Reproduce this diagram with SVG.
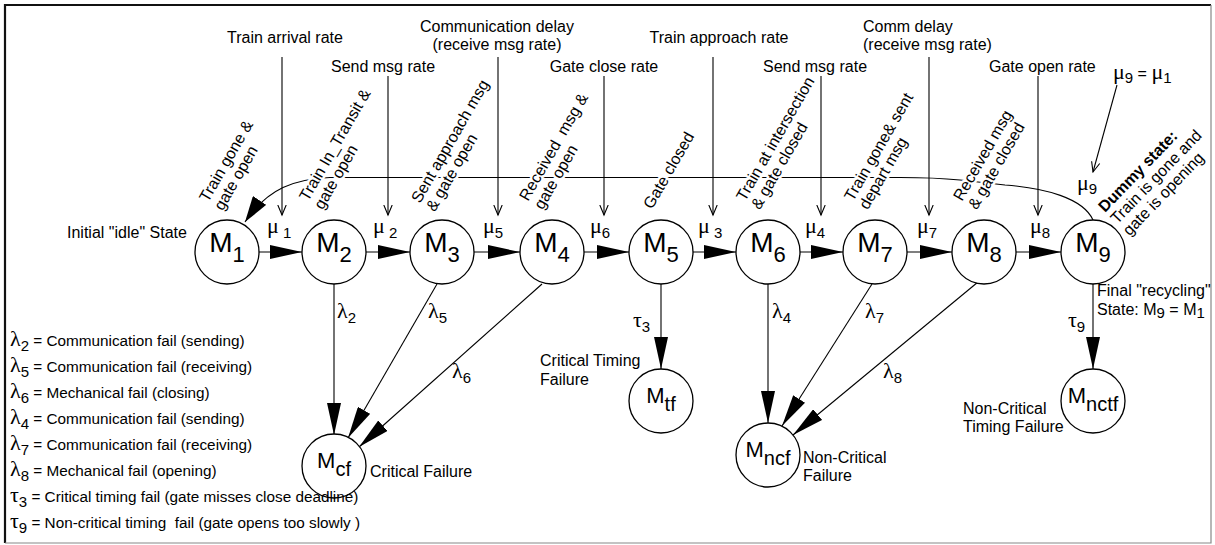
<svg xmlns="http://www.w3.org/2000/svg" width="1215" height="545" viewBox="0 0 1215 545">
<style>
text{font-family:"Liberation Sans",Arial,sans-serif;font-size:16px;fill:#000}
.g{font-family:"Liberation Serif","Times New Roman",serif;font-size:22px}
.s{font-size:15px}
.nm{font-size:28px}
.ns{font-size:22px}
.fm{font-size:22px}
.fs{font-size:20px}
.lg{font-size:15.3px}
.lb{stroke:#fff;stroke-width:5;stroke-linejoin:round;paint-order:stroke}
.node circle{fill:#fff;stroke:#000;stroke-width:1.3}
.c line,.c path{stroke:#000;stroke-width:1.1;fill:none}
.fa{marker-end:url(#fill)}
.oa{marker-end:url(#open)}
.fb{marker-end:url(#big)}
</style>
<defs>
<marker id="fill" markerUnits="userSpaceOnUse" markerWidth="33" markerHeight="14" refX="32" refY="7" orient="auto"><path d="M0,0L32,7L0,14z" fill="#000"/></marker>
<marker id="big" markerUnits="userSpaceOnUse" markerWidth="27" markerHeight="16" refX="26" refY="8" orient="auto"><path d="M0,0L26,8L0,16z" fill="#000"/></marker>
<marker id="open" markerUnits="userSpaceOnUse" markerWidth="12" markerHeight="10" refX="10.5" refY="5" orient="auto"><path d="M0.5,0.8L10.5,5L0.5,9.2" fill="none" stroke="#000" stroke-width="1.1"/></marker>
</defs>

<!-- frame -->
<path d="M5,543V5H1211" fill="none" stroke="#111" stroke-width="2.2"/>
<path d="M5,543H1211V5" fill="none" stroke="#888" stroke-width="1.2"/>

<!-- connectors -->
<g id="connectors" class="c">
  <!-- rate inputs -->
  <line class="oa" x1="282" y1="57" x2="282" y2="215"/>
  <line class="oa" x1="388" y1="76" x2="388" y2="215"/>
  <line class="oa" x1="498" y1="57" x2="498" y2="215"/>
  <line class="oa" x1="604" y1="76" x2="604" y2="215"/>
  <line class="oa" x1="713" y1="57" x2="713" y2="215"/>
  <line class="oa" x1="821" y1="76" x2="821" y2="215"/>
  <line class="oa" x1="929" y1="57" x2="929" y2="215"/>
  <line class="oa" x1="1038" y1="76" x2="1038" y2="215"/>
  <line class="oa" x1="1117" y1="85" x2="1093" y2="172"/>
  <!-- recycle path M9 -> M1 -->
  <path class="fb" d="M1093,220C1083,198 1045,188 1005,185L960,180C940,178 920,177.5 900,177.5L330,177.5C295,179 268,188 245,222"/>
  <!-- main chain -->
  <line class="fa" x1="259" y1="252" x2="302" y2="252"/>
  <line class="fa" x1="366" y1="252" x2="410" y2="252"/>
  <line class="fa" x1="474" y1="252" x2="520" y2="252"/>
  <line class="fa" x1="584" y1="252" x2="629" y2="252"/>
  <line class="fa" x1="693" y1="252" x2="736" y2="252"/>
  <line class="fa" x1="800" y1="252" x2="843" y2="252"/>
  <line class="fa" x1="907" y1="252" x2="952" y2="252"/>
  <line class="fa" x1="1016" y1="252" x2="1061" y2="252"/>
  <!-- failure transitions -->
  <line class="fa" x1="334" y1="284" x2="334" y2="435"/>
  <line class="fa" x1="437" y1="284" x2="348" y2="438"/>
  <line class="fa" x1="542" y1="284" x2="359" y2="447"/>
  <line class="fa" x1="661" y1="284" x2="661" y2="369"/>
  <line class="fa" x1="768" y1="284" x2="768" y2="423"/>
  <line class="fa" x1="872" y1="284" x2="782" y2="426"/>
  <line class="fa" x1="978" y1="282" x2="793" y2="435"/>
  <line class="fa" x1="1093" y1="284" x2="1093" y2="369"/>
</g>

<!-- states -->
<g id="M1" class="node"><circle cx="227" cy="252" r="32"/><text x="227" y="252" text-anchor="middle" class="nm">M<tspan class="ns" dy="10">1</tspan></text></g>
<g id="M2" class="node"><circle cx="334" cy="252" r="32"/><text x="334" y="252" text-anchor="middle" class="nm">M<tspan class="ns" dy="10">2</tspan></text></g>
<g id="M3" class="node"><circle cx="442" cy="252" r="32"/><text x="442" y="252" text-anchor="middle" class="nm">M<tspan class="ns" dy="10">3</tspan></text></g>
<g id="M4" class="node"><circle cx="552" cy="252" r="32"/><text x="552" y="252" text-anchor="middle" class="nm">M<tspan class="ns" dy="10">4</tspan></text></g>
<g id="M5" class="node"><circle cx="661" cy="252" r="32"/><text x="661" y="252" text-anchor="middle" class="nm">M<tspan class="ns" dy="10">5</tspan></text></g>
<g id="M6" class="node"><circle cx="768" cy="252" r="32"/><text x="768" y="252" text-anchor="middle" class="nm">M<tspan class="ns" dy="10">6</tspan></text></g>
<g id="M7" class="node"><circle cx="875" cy="252" r="32"/><text x="875" y="252" text-anchor="middle" class="nm">M<tspan class="ns" dy="10">7</tspan></text></g>
<g id="M8" class="node"><circle cx="984" cy="252" r="32"/><text x="984" y="252" text-anchor="middle" class="nm">M<tspan class="ns" dy="10">8</tspan></text></g>
<g id="M9" class="node"><circle cx="1093" cy="252" r="32"/><text x="1093" y="252" text-anchor="middle" class="nm">M<tspan class="ns" dy="10">9</tspan></text></g>
<g id="Mcf" class="node"><circle cx="334" cy="466" r="32"/><text x="334" y="468" text-anchor="middle" class="fm">M<tspan class="fs" dy="8">cf</tspan></text></g>
<g id="Mtf" class="node"><circle cx="661" cy="401" r="32"/><text x="661" y="403" text-anchor="middle" class="fm">M<tspan class="fs" dy="8">tf</tspan></text></g>
<g id="Mncf" class="node"><circle cx="768" cy="455" r="32"/><text x="768" y="457" text-anchor="middle" class="fm">M<tspan class="fs" dy="8">ncf</tspan></text></g>
<g id="Mnctf" class="node"><circle cx="1093" cy="401" r="32"/><text x="1093" y="403" text-anchor="middle" class="fm">M<tspan class="fs" dy="8">nctf</tspan></text></g>

<!-- state descriptions along the recycle path -->
<g id="state-notes">
  <text class="lb" transform="translate(208,203) rotate(-60)"><tspan x="0" y="0">Train gone &amp;</tspan><tspan x="0" y="17">gate open</tspan></text>
  <text class="lb" transform="translate(308,202) rotate(-60)"><tspan x="0" y="0">Train In_Transit &amp;</tspan><tspan x="0" y="17">gate open</tspan></text>
  <text class="lb" transform="translate(420,204) rotate(-60)"><tspan x="0" y="0">Sent approach msg</tspan><tspan x="0" y="17">&amp; gate open</tspan></text>
  <text class="lb" transform="translate(528,202) rotate(-60)" style="white-space:pre"><tspan x="0" y="0">Received  msg &amp;</tspan><tspan x="0" y="17">gate open</tspan></text>
  <text class="lb" transform="translate(652,210) rotate(-60)">Gate closed</text>
  <text class="lb" transform="translate(745,202) rotate(-60)"><tspan x="0" y="0">Train at intersection</tspan><tspan x="0" y="17">&amp; gate closed</tspan></text>
  <text class="lb" transform="translate(853,202) rotate(-60)"><tspan x="0" y="0">Train gone&amp; sent</tspan><tspan x="0" y="17">depart msg</tspan></text>
  <text class="lb" transform="translate(962,202) rotate(-60)"><tspan x="0" y="0">Received msg</tspan><tspan x="0" y="17">&amp; gate closed</tspan></text>
  <text class="lb" transform="translate(1105,213) rotate(-46)"><tspan x="0" y="0" font-weight="bold">Dummy state:</tspan><tspan x="0" y="17">Train is gone and</tspan><tspan x="0" y="34">gate is opening</tspan></text>
</g>

<!-- rate labels -->
<g id="rates">
  <text x="285" y="43" text-anchor="middle">Train arrival rate</text>
  <text x="383" y="72" text-anchor="middle">Send msg rate</text>
  <text x="497" y="32" text-anchor="middle">Communication delay</text>
  <text x="497" y="50" text-anchor="middle">(receive msg rate)</text>
  <text x="604" y="72" text-anchor="middle">Gate close rate</text>
  <text x="719" y="43" text-anchor="middle">Train approach rate</text>
  <text x="815" y="72" text-anchor="middle">Send msg rate</text>
  <text x="863" y="32">Comm delay</text>
  <text x="863" y="50">(receive msg rate)</text>
  <text x="989" y="72">Gate open rate</text>
  <text x="1113" y="79"><tspan class="g">μ</tspan><tspan class="s" dy="4">9</tspan><tspan dy="-4"> = </tspan><tspan class="g">μ</tspan><tspan class="s" dy="4">1</tspan></text>
  <text x="1077" y="190"><tspan class="g">μ</tspan><tspan class="s" dy="4">9</tspan></text>
  <text x="267" y="233"><tspan class="g">μ</tspan><tspan class="s" dy="5"> 1</tspan></text>
  <text x="373" y="233"><tspan class="g">μ</tspan><tspan class="s" dy="5"> 2</tspan></text>
  <text x="483" y="233"><tspan class="g">μ</tspan><tspan class="s" dy="5">5</tspan></text>
  <text x="590" y="233"><tspan class="g">μ</tspan><tspan class="s" dy="5">6</tspan></text>
  <text x="698" y="233"><tspan class="g">μ</tspan><tspan class="s" dy="5"> 3</tspan></text>
  <text x="805" y="233"><tspan class="g">μ</tspan><tspan class="s" dy="5">4</tspan></text>
  <text x="917" y="233"><tspan class="g">μ</tspan><tspan class="s" dy="5">7</tspan></text>
  <text x="1030" y="233"><tspan class="g">μ</tspan><tspan class="s" dy="5">8</tspan></text>
  <text x="337" y="318"><tspan class="g">λ</tspan><tspan class="s" dy="5">2</tspan></text>
  <text x="428" y="318"><tspan class="g">λ</tspan><tspan class="s" dy="5">5</tspan></text>
  <text x="452" y="378"><tspan class="g">λ</tspan><tspan class="s" dy="5">6</tspan></text>
  <text x="772" y="318"><tspan class="g">λ</tspan><tspan class="s" dy="5">4</tspan></text>
  <text x="865" y="318"><tspan class="g">λ</tspan><tspan class="s" dy="5">7</tspan></text>
  <text x="883" y="378"><tspan class="g">λ</tspan><tspan class="s" dy="5">8</tspan></text>
  <text x="633" y="327"><tspan class="g">τ</tspan><tspan class="s" dy="5">3</tspan></text>
  <text x="1068" y="327"><tspan class="g">τ</tspan><tspan class="s" dy="5">9</tspan></text>
</g>

<!-- state captions -->
<g id="captions">
  <text x="67" y="238">Initial "idle" State</text>
  <text x="370" y="477">Critical Failure</text>
  <text x="540" y="366">Critical Timing</text>
  <text x="540" y="385">Failure</text>
  <text x="803" y="463">Non-Critical</text>
  <text x="803" y="481">Failure</text>
  <text x="963" y="414">Non-Critical</text>
  <text x="963" y="432">Timing Failure</text>
  <text x="1097" y="296">Final "recycling"</text>
  <text x="1097" y="315">State: M<tspan class="s" dy="3">9</tspan><tspan dy="-3"> = M</tspan><tspan class="s" dy="3">1</tspan></text>
</g>

<!-- legend -->
<g id="legend" class="lg">
  <text x="10" y="346"><tspan class="g">λ</tspan><tspan class="s" dy="5">2</tspan><tspan class="lg" dy="-5"> = Communication fail (sending)</tspan></text>
  <text x="10" y="372"><tspan class="g">λ</tspan><tspan class="s" dy="5">5</tspan><tspan class="lg" dy="-5"> = Communication fail (receiving)</tspan></text>
  <text x="10" y="398"><tspan class="g">λ</tspan><tspan class="s" dy="5">6</tspan><tspan class="lg" dy="-5"> = Mechanical fail (closing)</tspan></text>
  <text x="10" y="424"><tspan class="g">λ</tspan><tspan class="s" dy="5">4</tspan><tspan class="lg" dy="-5"> = Communication fail (sending)</tspan></text>
  <text x="10" y="450"><tspan class="g">λ</tspan><tspan class="s" dy="5">7</tspan><tspan class="lg" dy="-5"> = Communication fail (receiving)</tspan></text>
  <text x="10" y="476"><tspan class="g">λ</tspan><tspan class="s" dy="5">8</tspan><tspan class="lg" dy="-5"> = Mechanical fail (opening)</tspan></text>
  <text x="10" y="502"><tspan class="g">τ</tspan><tspan class="s" dy="5">3</tspan><tspan class="lg" dy="-5"> = Critical timing fail (gate misses close deadline)</tspan></text>
  <text x="10" y="528" style="white-space:pre"><tspan class="g">τ</tspan><tspan class="s" dy="5">9</tspan><tspan class="lg" dy="-5"> = Non-critical timing  fail (gate opens too slowly )</tspan></text>
</g>
</svg>
